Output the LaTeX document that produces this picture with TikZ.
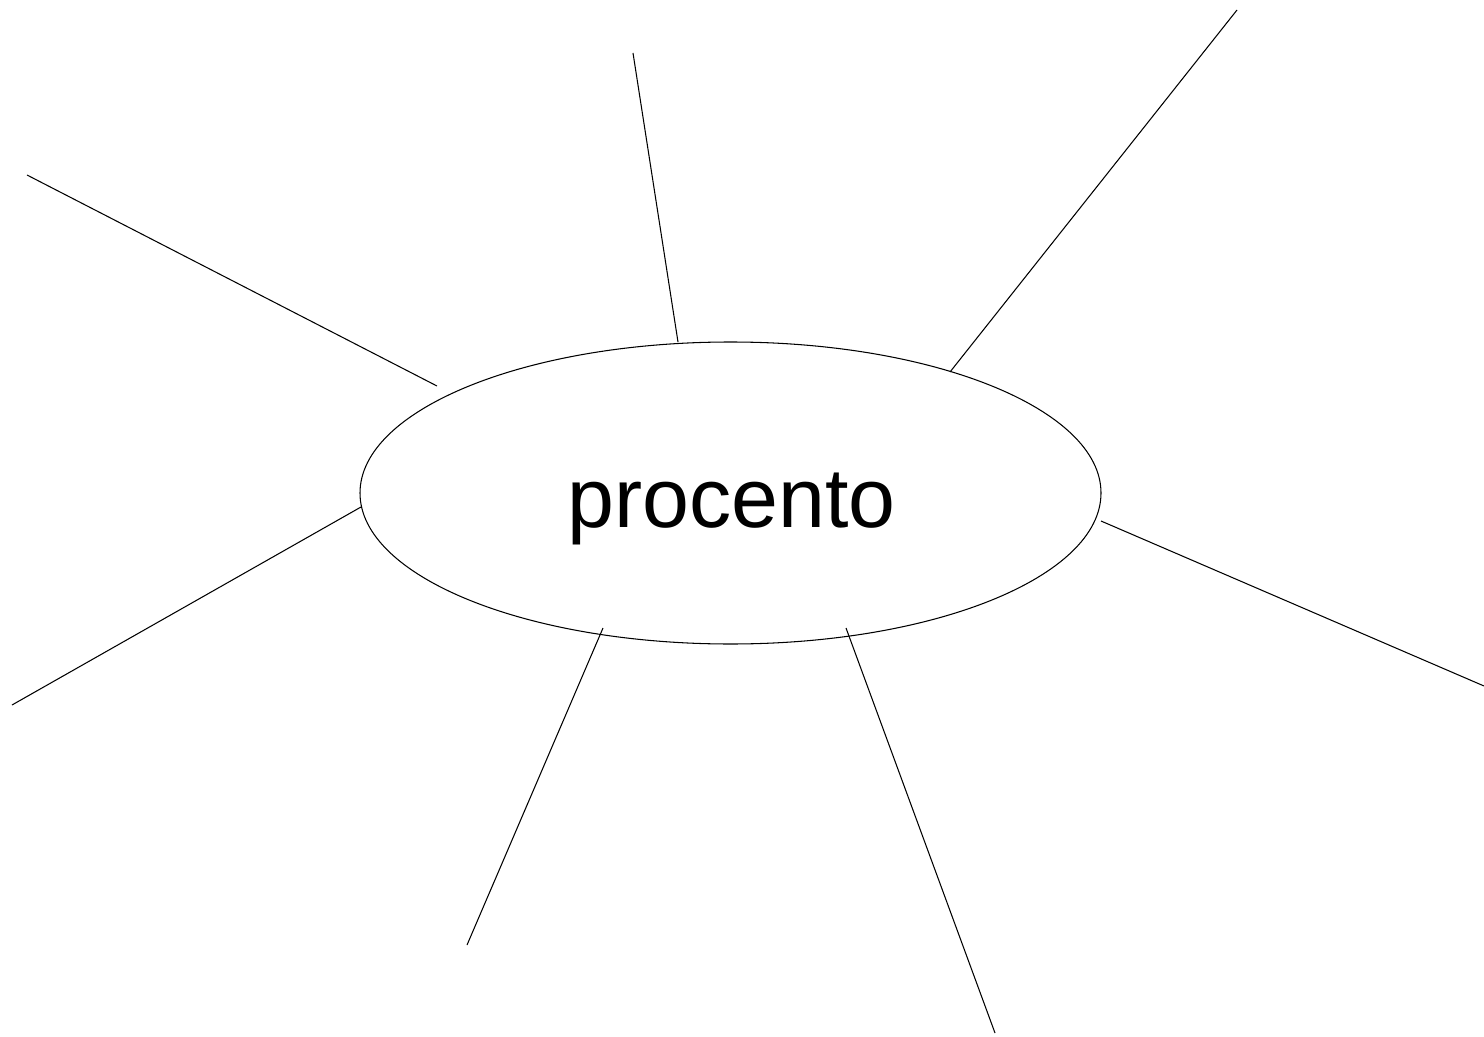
\documentclass[tikz,border=0pt]{standalone}
\usepackage{fontspec}
\setmainfont{Liberation Sans}
\usetikzlibrary{shapes.geometric}
\begin{document}
\begin{tikzpicture}[x=0.02cm,y=-0.02cm,
  spoke/.style={draw=black,line width=0.6pt},
  hub/.style={draw=black,line width=0.6pt,ellipse,minimum width=741*0.02cm,minimum height=302*0.02cm,inner sep=0pt},
  hubtext/.style={font=\fontsize{48}{58}\selectfont,inner sep=0pt,anchor=base}]
\useasboundingbox (0,0) rectangle (1484,1037);
\node[hub] (h) at (730.5,493) {};
\node[hubtext] (t) at (731.5,527) {procento};
\coordinate (a1) at (27,175);   \coordinate (a2) at (437,386);
\coordinate (b1) at (633,53);   \coordinate (b2) at (678,342);
\coordinate (c1) at (1237,10);  \coordinate (c2) at (950,372);
\coordinate (d1) at (1101,521); \coordinate (d2) at (1484,686);
\coordinate (e1) at (361,507);  \coordinate (e2) at (12,705);
\coordinate (f1) at (603,628);  \coordinate (f2) at (467,945);
\coordinate (g1) at (846,628);  \coordinate (g2) at (995,1033);
\draw[spoke] (a1) -- (a2);
\draw[spoke] (b1) -- (b2);
\draw[spoke] (c1) -- (c2);
\draw[spoke] (d1) -- (d2);
\draw[spoke] (e1) -- (e2);
\draw[spoke] (f1) -- (f2);
\draw[spoke] (g1) -- (g2);
\end{tikzpicture}
\end{document}
